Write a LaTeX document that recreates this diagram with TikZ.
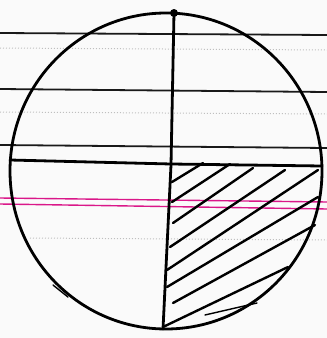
\documentclass[tikz,border=0pt]{standalone}
\usepackage{tikz}
\usetikzlibrary{calc}

\begin{document}
\begin{tikzpicture}[x=1pt, y=-1pt,
    rule/.style={black!90, line width=1.8pt},
    margin/.style={magenta!90!black, line width=1.4pt},
    faint/.style={black!25, line width=1pt, dotted},
    pen/.style={black, line width=2.8pt, line cap=round, line join=round},
    hatch/.style={black, line width=2.4pt, line cap=round}]
    % Papier
    \useasboundingbox (0,0) rectangle (327,338);
    \fill[black!2] (0,0) rectangle (327,338);
    \draw[rule] (0,33) -- (327,35);
    \draw[rule] (0,89) -- (327,92);
    \draw[rule] (0,145) -- (327,148);
    \draw[faint] (0,48) -- (327,50);
    \draw[faint] (0,112) -- (327,114);
    \draw[faint] (30,238) -- (327,240);
    \draw[margin] (0,198) -- (327,202);
    \draw[margin] (0,204) -- (327,209);

    % Kreis und Durchmesser
    \coordinate (centre) at (166,171);
    \coordinate (top) at (174,13);
    \coordinate (bottom) at (163,329);
    \coordinate (left) at (10,160);
    \coordinate (right) at (322,166);
    \draw[pen] (centre) ellipse [x radius=156, y radius=158];
    \draw[pen] (top) -- (171,165) -- (bottom);
    \draw[pen] (left) -- (171,164) -- (right);
    \fill (top) circle (4pt);

    % Schraffur
    \draw[hatch] (172,182) -- (203,163);
    \draw[hatch] (172,202) -- (230,164);
    \draw[hatch] (173,223) -- (253,168);
    \draw[hatch] (170,247) -- (285,170);
    \draw[hatch] (167,270) -- (318,170);
    \draw[hatch] (167,287) -- (318,197);
    \draw[hatch] (173,303) -- (315,225);
    \draw[hatch] (163,327) -- (288,267);
    \draw[hatch, line width=1.4pt] (205,315) -- (257,303);
    \draw[hatch, line width=1.4pt] (53,285) -- (68,297);
\end{tikzpicture}
\end{document}
